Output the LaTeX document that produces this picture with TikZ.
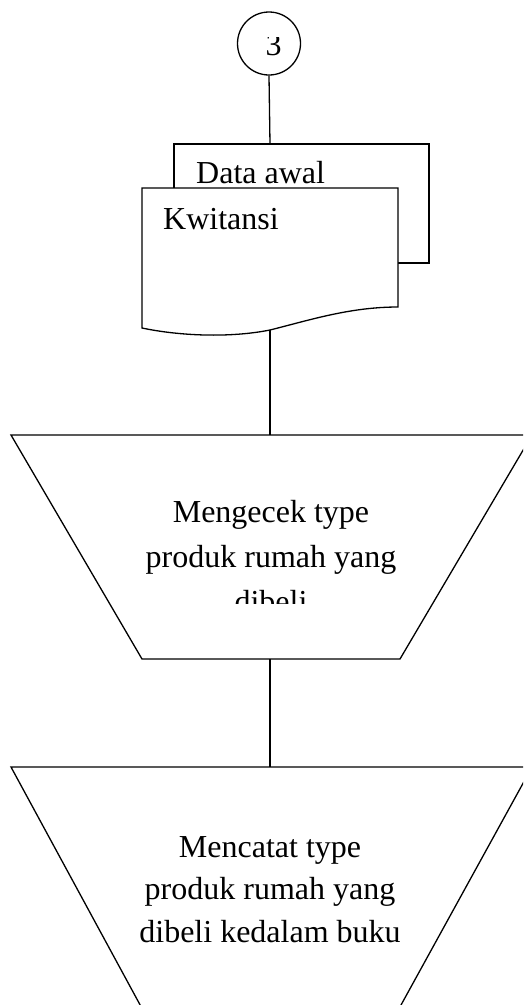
\documentclass[tikz,border=0pt]{standalone}
\usepackage{fontspec}
\setmainfont{Liberation Serif}
\begin{document}
\begin{tikzpicture}[x=1pt,y=-1pt,
  shapeline/.style={draw=black,line width=1.3pt,fill=white,line join=miter},
  conn/.style={draw=black,line width=1.3pt},
  lbl/.style={inner sep=0pt,font=\fontsize{32}{45}\selectfont,text=black}]
\useasboundingbox (0,0) rectangle (523,1005);
\clip (0,0) rectangle (523,1005);
% connector circle
\node[circle,draw=black,line width=1.3pt,minimum size=63pt,inner sep=0pt] (c3) at (269,43.5) {};
\begin{scope}
\clip (230,37) rectangle (310,70);
\node[lbl,anchor=base] (n3) at (273.5,55) {3};
\end{scope}
% back document
\path[shapeline] (174,144) -- (429,144) -- (429,263) -- (398,263) -- (174,263) -- cycle;
\coordinate (backtop) at (270,144);
% front document
\path[shapeline] (142,188) -- (398,188) -- (398,307)
  .. controls (350,307) and (310,320) .. (270,330)
  .. controls (230,338) and (180,336) .. (142,328) -- cycle;
\coordinate (frontbot) at (270,330);
\node[lbl,anchor=base west] (dataawal) at (196,183) {Data awal};
\node[lbl,anchor=base west] (kwit) at (163,229) {Kwitansi};
% trapezoid 1
\path[shapeline] (11,435) -- (532,435) -- (400,659) -- (142,659) -- cycle;
\coordinate (t1top) at (270,435);
\coordinate (t1bot) at (270,659);
\node[lbl,anchor=base] (t1a) at (271,522) {Mengecek type};
\node[lbl,anchor=base] (t1b) at (271,567) {produk rumah yang};
\begin{scope}
\clip (100,560) rectangle (450,603);
\node[lbl,anchor=base] (t1c) at (271,612) {dibeli};
\end{scope}
% trapezoid 2
\path[shapeline] (11,767) -- (532,767) -- (390,1025) -- (151,1025) -- cycle;
\coordinate (t2top) at (270,767);
\node[lbl,anchor=base] (t2a) at (270,857) {Mencatat type};
\node[lbl,anchor=base] (t2b) at (270,899) {produk rumah yang};
\node[lbl,anchor=base] (t2c) at (270,942) {dibeli kedalam buku};
% connectors
\draw[conn] (c3.south) -- (backtop);
\draw[conn] (frontbot) -- (t1top);
\draw[conn] (t1bot) -- (t2top);
\end{tikzpicture}
\end{document}
